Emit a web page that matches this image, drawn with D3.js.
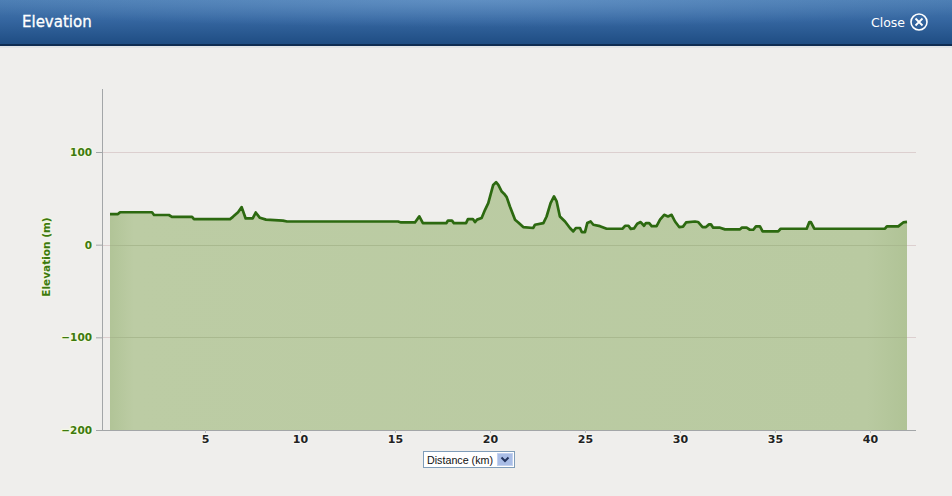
<!DOCTYPE html>
<html>
<head>
<meta charset="utf-8">
<script src="https://cdn.jsdelivr.net/npm/d3@7/dist/d3.min.js"></script>
<style>
  html, body { margin: 0; padding: 0; background: #efeeec; }
  svg { display: block; }
</style>
</head>
<body>
<svg id="chart" width="952" height="496"></svg>
<script>
// ---- Data ----
const distanceKm = [0, 0.42, 0.53, 2.21, 2.32, 3.1, 3.26, 4.32, 4.42, 6.32, 6.47, 6.74, 6.93, 7.14, 7.51, 7.67, 7.89, 8.21, 9.1, 9.32,
  15.16, 15.32, 16.05, 16.28, 16.47, 17.71, 17.79, 18.0, 18.1, 18.74, 18.84, 19.1, 19.21, 19.32, 19.56, 19.74, 19.91, 20.17, 20.32, 20.44,
  20.62, 20.74, 20.88, 21.05, 21.32, 21.49, 21.75, 22.28, 22.37, 22.81, 22.98, 23.19, 23.37, 23.51, 23.68, 23.95, 24.21, 24.38, 24.53, 24.74,
  24.83, 25.0, 25.12, 25.3, 25.44, 25.79, 26.14, 26.98, 27.11, 27.29, 27.41, 27.58, 27.75, 27.93, 28.11, 28.21, 28.38, 28.51, 28.77, 28.95,
  29.17, 29.37, 29.56, 29.74, 29.96, 30.16, 30.32, 30.79, 30.95, 31.19, 31.37, 31.53, 31.63, 31.75, 32.11, 32.37, 33.16, 33.25, 33.51, 33.68,
  33.86, 34.0, 34.21, 34.35, 35.17, 35.3, 36.67, 36.81, 36.89, 37.07, 40.79, 40.89, 41.49, 41.75, 41.95];
const elevationM = [33, 33, 35, 35, 32, 32, 30, 30, 27.6, 27.6, 30, 35, 40.5, 28.3, 28.3, 34.7, 29, 27, 26, 25,
  25, 24, 24, 30.5, 23.3, 23.3, 26, 26, 23.3, 23.3, 27.6, 27.6, 24.4, 27, 28.7, 37.6, 44.8, 64.5, 67.4, 64.5,
  57.3, 55, 51.3, 41.2, 26.9, 24, 19, 18, 21.5, 23.3, 30.4, 44.8, 52, 46.6, 30.4, 25, 18, 14.3, 18, 18,
  13.6, 13.6, 23.3, 25, 21.5, 20, 17.2, 17.2, 20.4, 20.4, 17, 17.5, 22.6, 24.4, 20.4, 23.3, 23.3, 20, 20, 27,
  32.2, 30.5, 32.2, 25, 19, 19.5, 24, 25, 24.5, 19, 19, 21.9, 21.9, 18.3, 18.3, 16.5, 16.5, 18.3, 18.3, 16.1,
  16.1, 19.7, 19.7, 14.3, 14.3, 17.2, 17.2, 24.4, 24.4, 17.2, 17.2, 19.7, 19.7, 24, 24.5];
const xTicks = [5, 10, 15, 20, 25, 30, 35, 40];
const yTicks = [-200, -100, 0, 100];
const title = "Elevation";
const yLabel = "Elevation (m)";
const xSelectorLabel = "Distance (km)";

const points = distanceKm.map((d, i) => ({ d, e: elevationM[i] }));

const svg = d3.select("#chart");
const defs = svg.append("defs");

// Header gradient
const hg = defs.append("linearGradient").attr("id", "hdr").attr("x1", 0).attr("y1", 0).attr("x2", 0).attr("y2", 1);
hg.append("stop").attr("offset", "0%").attr("stop-color", "#4a7cb2");
hg.append("stop").attr("offset", "45%").attr("stop-color", "#3566a0");
hg.append("stop").attr("offset", "100%").attr("stop-color", "#1e4c82");
const hg2 = defs.append("radialGradient").attr("id", "hdrGlow").attr("cx", "50%").attr("cy", "0%").attr("r", "60%");
hg2.append("stop").attr("offset", "0%").attr("stop-color", "#7aa6d6").attr("stop-opacity", 0.45);
hg2.append("stop").attr("offset", "100%").attr("stop-color", "#7aa6d6").attr("stop-opacity", 0);

// Area gradient
const ag = defs.append("linearGradient").attr("id", "areaG").attr("x1", 0).attr("y1", 0).attr("x2", 1).attr("y2", 0);
ag.append("stop").attr("offset", "0%").attr("stop-color", "#b1c497");
ag.append("stop").attr("offset", "3%").attr("stop-color", "#bccca4");
ag.append("stop").attr("offset", "95%").attr("stop-color", "#b9caa1");
ag.append("stop").attr("offset", "100%").attr("stop-color", "#b0c396");

// Header
svg.append("rect").attr("x", 0).attr("y", 0).attr("width", 952).attr("height", 45).attr("fill", "url(#hdr)");
svg.append("rect").attr("x", 0).attr("y", 0).attr("width", 952).attr("height", 45).attr("fill", "url(#hdrGlow)");
svg.append("rect").attr("x", 0).attr("y", 44).attr("width", 952).attr("height", 2).attr("fill", "#0f2c52");
svg.append("rect").attr("x", 0).attr("y", 46).attr("width", 952).attr("height", 2).attr("fill", "#e2e4e6");

svg.append("text").attr("x", 22).attr("y", 27)
  .attr("font-family", "DejaVu Sans, Verdana, sans-serif").attr("font-size", 15)
  .attr("fill", "#ffffff").attr("stroke", "#ffffff").attr("stroke-width", 0.3).text(title);
svg.append("text").attr("x", 905).attr("y", 27).attr("text-anchor", "end")
  .attr("font-family", "DejaVu Sans, Verdana, sans-serif").attr("font-size", 12.5)
  .attr("fill", "#ffffff").text("Close");
const cl = svg.append("g").attr("transform", "translate(919,22)");
cl.append("circle").attr("r", 8).attr("fill", "none").attr("stroke", "#ffffff").attr("stroke-width", 1.6);
cl.append("path").attr("d", "M-3.5,-3.5L3.5,3.5M3.5,-3.5L-3.5,3.5").attr("stroke", "#ffffff").attr("stroke-width", 1.8);

// Scales
const x = d3.scaleLinear().domain([0, 41.95]).range([110, 907]);
const y = d3.scaleLinear().domain([-200, 100]).range([430, 152]);
const axisLeft = 102, axisRight = 916, plotTop = 89;

// Grid lines
svg.append("g").selectAll("line").data(yTicks.filter(t => t > -200)).join("line")
  .attr("x1", axisLeft).attr("x2", axisRight)
  .attr("y1", d => Math.round(y(d)) + 0.5).attr("y2", d => Math.round(y(d)) + 0.5)
  .attr("stroke", "#dccfcf").attr("stroke-width", 1);

// Area
const area = d3.area().x(d => x(d.d)).y0(y(-200)).y1(d => y(d.e));
svg.append("path").datum(points).attr("d", area).attr("fill", "url(#areaG)");

// Grid lines over the area (visible faintly)
svg.append("g").selectAll("line").data(yTicks.filter(t => t > -200 && t < 100)).join("line")
  .attr("x1", x(0)).attr("x2", x(41.95))
  .attr("y1", d => Math.round(y(d)) + 0.5).attr("y2", d => Math.round(y(d)) + 0.5)
  .attr("stroke", "#a9b98f").attr("stroke-width", 1);

// Line
const line = d3.line().x(d => x(d.d)).y(d => y(d.e));
svg.append("path").datum(points).attr("d", line)
  .attr("fill", "none").attr("stroke", "#2c6910").attr("stroke-width", 2.7).attr("stroke-linejoin", "round");

// Axis lines
svg.append("line").attr("x1", axisLeft + 0.5).attr("x2", axisLeft + 0.5).attr("y1", plotTop).attr("y2", 431)
  .attr("stroke", "#a3a6a8").attr("stroke-width", 1);
svg.append("line").attr("x1", axisLeft).attr("x2", axisRight).attr("y1", 430.5).attr("y2", 430.5)
  .attr("stroke", "#a3a6a8").attr("stroke-width", 1);

// Y axis ticks & labels
const yAxis = d3.axisLeft(y).tickValues(yTicks).tickSize(6).tickPadding(4)
  .tickFormat(d => d < 0 ? "\u2212" + Math.abs(d) : String(d));
const gy = svg.append("g").attr("transform", `translate(${axisLeft},0)`).call(yAxis);
gy.select(".domain").remove();
gy.selectAll(".tick line").attr("stroke", "#a3a6a8");
gy.selectAll(".tick text")
  .attr("font-family", "DejaVu Sans, Verdana, sans-serif").attr("font-size", 10.5).attr("font-weight", "bold")
  .attr("fill", "#3d7a0c").attr("stroke", "#f4f7e6").attr("stroke-width", 2.5)
  .attr("paint-order", "stroke").attr("dy", "0.34em");

// X axis ticks & labels
const xAxis = d3.axisBottom(x).tickValues(xTicks).tickSize(3).tickPadding(2).tickFormat(d3.format("d"));
const gx = svg.append("g").attr("transform", "translate(0,430)").call(xAxis);
gx.select(".domain").remove();
gx.selectAll(".tick line").attr("stroke", "#b8bbbd");
gx.selectAll(".tick text")
  .attr("font-family", "DejaVu Sans, Verdana, sans-serif").attr("font-size", 11).attr("font-weight", "bold")
  .attr("fill", "#222222").attr("stroke", "#f6f6f4").attr("stroke-width", 2).attr("paint-order", "stroke");

// Y axis title
svg.append("text").attr("transform", "translate(50,257) rotate(-90)").attr("text-anchor", "middle")
  .attr("font-family", "DejaVu Sans, Verdana, sans-serif").attr("font-size", 10.5).attr("font-weight", "bold")
  .attr("fill", "#3d7a0c").attr("stroke", "#f2f5e4").attr("stroke-width", 2.5).attr("paint-order", "stroke")
  .text(yLabel);

// X selector (dropdown)
const dd = svg.append("g").attr("transform", "translate(423,451)");
dd.append("rect").attr("x", 0.5).attr("y", 0.5).attr("width", 91).attr("height", 16)
  .attr("fill", "#ffffff").attr("stroke", "#7f9db9");
dd.append("text").attr("x", 4).attr("y", 12.5)
  .attr("font-family", "Liberation Sans, Arial, sans-serif").attr("font-size", 11.5).attr("fill", "#111111")
  .attr("textLength", 66).attr("lengthAdjust", "spacingAndGlyphs")
  .text(xSelectorLabel);
dd.append("rect").attr("x", 74.5).attr("y", 2.5).attr("width", 15).attr("height", 12)
  .attr("fill", "#a9bde6").attr("stroke", "#c3d1ef");
dd.append("path").attr("d", "M78.5,6.5L82,10L85.5,6.5").attr("fill", "none")
  .attr("stroke", "#23345e").attr("stroke-width", 2);
</script>
</body>
</html>
